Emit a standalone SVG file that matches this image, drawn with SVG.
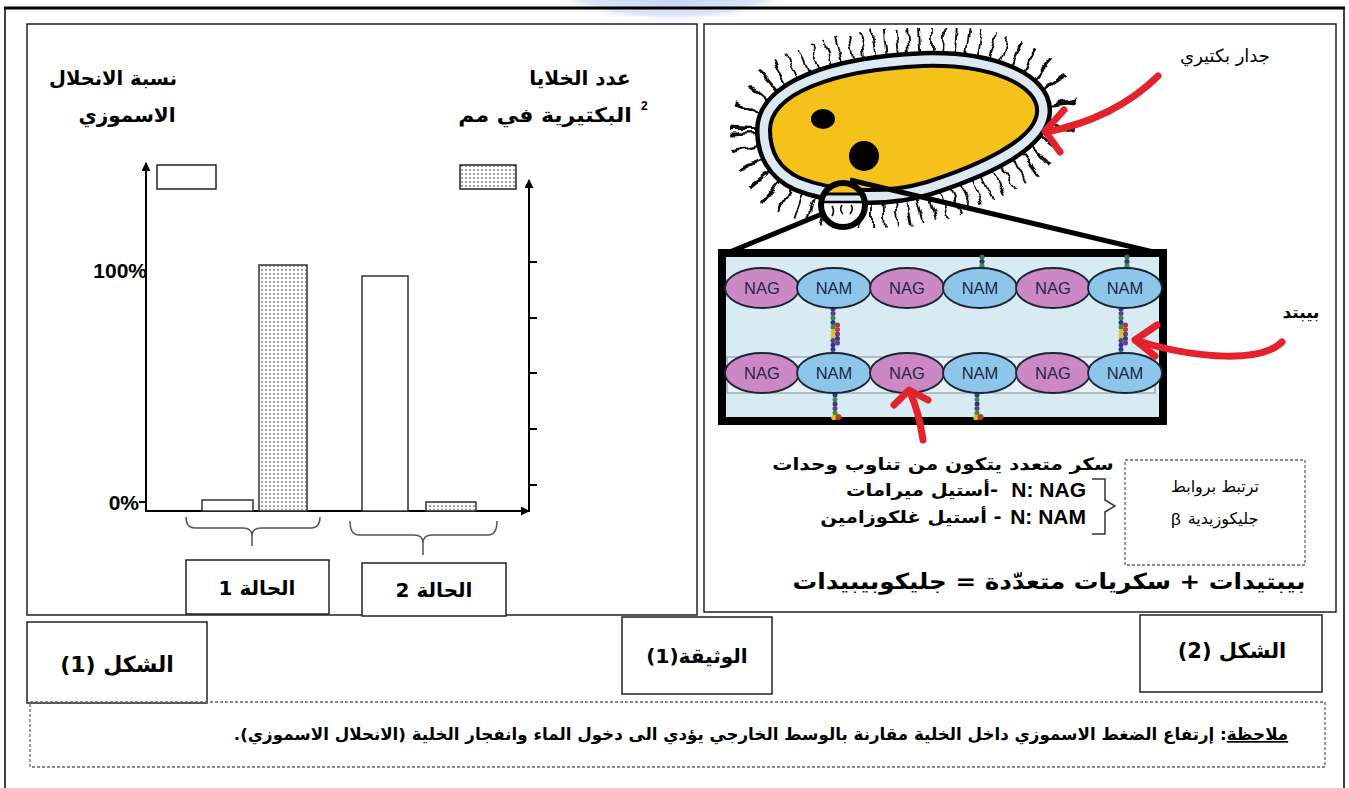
<svg xmlns="http://www.w3.org/2000/svg" width="1349" height="788" viewBox="0 0 1349 788">
  <defs>
    <style>
      .ar { font-family: "DejaVu Sans", "Liberation Sans", sans-serif; direction: rtl; }
      .lat { font-family: "Liberation Sans", Arial, sans-serif; }
      .b { font-weight: bold; }
      .box { fill: #fff; stroke: #222; stroke-width: 1.5; }
      .axis { stroke: #000; stroke-width: 2; fill: none; }
      .tick { stroke: #000; stroke-width: 2; }
      .brace { stroke: #555; stroke-width: 1.5; fill: none; }
      .bar { stroke: #333; stroke-width: 1.5; }
      .red { stroke: #e3222b; stroke-width: 7; fill: none; stroke-linecap: round; stroke-linejoin: round; }
      .nag { fill: #cc88c4; stroke: #1c2533; stroke-width: 1.8; }
      .nam { fill: #8ec6ea; stroke: #1c2533; stroke-width: 1.8; }
      .sug { font-family: "Liberation Sans", Arial, sans-serif; font-size: 16.5px; fill: #1d2747; text-anchor: middle; }
      .dash { fill: none; stroke: #666; stroke-width: 1.3; stroke-dasharray: 3 2; }
    </style>
    <pattern id="dots" width="4" height="4" patternUnits="userSpaceOnUse">
      <rect width="4" height="4" fill="#fff"/>
      <circle cx="2" cy="2" r="0.75" fill="#222"/>
    </pattern>
    <marker id="arrow" viewBox="0 0 10 10" refX="9" refY="5" markerWidth="4.5" markerHeight="4.5" orient="auto">
      <path d="M0,0 L10,5 L0,10 z" fill="#000"/>
    </marker>
    <radialGradient id="glow" cx="0.5" cy="0.5" r="0.5">
      <stop offset="0" stop-color="#c3d1f1"/>
      <stop offset="0.75" stop-color="#dbe4f7"/>
      <stop offset="1" stop-color="#ffffff" stop-opacity="0"/>
    </radialGradient>
    <filter id="wavy" x="-15%" y="-30%" width="130%" height="160%">
      <feTurbulence type="fractalNoise" baseFrequency="0.09" numOctaves="1" seed="7" result="t"/>
      <feDisplacementMap in="SourceGraphic" in2="t" scale="10" xChannelSelector="R" yChannelSelector="G"/>
    </filter>
    <path id="cellShape" d="M 770,130 C 770,95 830,70 923,66 C 990,64 1040,85 1037,113 C 1034,140 980,165 927,182 C 880,196 830,190 800,178 C 778,168 770,150 770,130 Z"/>
    <clipPath id="lens"><circle cx="843" cy="205" r="21"/></clipPath>
    <!-- peptide bead chains -->
    <g id="pepShort">
      <circle cx="0" cy="0" r="2.6" fill="#3a7a3a"/>
      <circle cx="0" cy="4.5" r="2.6" fill="#2b3b8c"/>
      <circle cx="0" cy="9" r="2.6" fill="#3a8c3a"/>
      <circle cx="0" cy="13" r="2.6" fill="#2b3b8c"/>
    </g>
    <g id="pepLong">
      <circle cx="0" cy="0" r="2.5" fill="#2b3b8c"/>
      <circle cx="0" cy="4.5" r="2.5" fill="#6a3a8a"/>
      <circle cx="0" cy="9" r="2.5" fill="#3a8c3a"/>
      <circle cx="0" cy="13.5" r="2.5" fill="#2b3b8c"/>
      <circle cx="0" cy="18" r="2.5" fill="#3a8c3a"/>
      <circle cx="0" cy="22.5" r="2.5" fill="#d9c21e"/>
      <circle cx="0" cy="27" r="2.5" fill="#d9c21e"/>
      <circle cx="0" cy="31.5" r="2.5" fill="#6a3a8a"/>
      <circle cx="0" cy="36" r="2.5" fill="#2b3b8c"/>
      <circle cx="0" cy="40.5" r="2.5" fill="#2b3b8c"/>
      <circle cx="0" cy="45" r="2.5" fill="#3a8c3a"/>
      <circle cx="4.5" cy="16" r="2.5" fill="#b03030"/>
      <circle cx="4.5" cy="20.5" r="2.5" fill="#c0392b"/>
      <circle cx="4.5" cy="25" r="2.5" fill="#6a3a8a"/>
      <circle cx="4.5" cy="29.5" r="2.5" fill="#2b3b8c"/>
      <circle cx="4.5" cy="34" r="2.5" fill="#6a3a8a"/>
    </g>
    <g id="pepLow">
      <circle cx="0" cy="0" r="2.5" fill="#2b3b8c"/>
      <circle cx="0" cy="4.5" r="2.5" fill="#3a8c3a"/>
      <circle cx="0" cy="9" r="2.5" fill="#2b3b8c"/>
      <circle cx="0" cy="13.5" r="2.5" fill="#6a3a8a"/>
      <circle cx="0" cy="18" r="2.5" fill="#3a8c3a"/>
      <circle cx="-1" cy="22.5" r="2.8" fill="#d9c21e"/>
      <circle cx="3.5" cy="22" r="3" fill="#c0392b"/>
    </g>
  </defs>

  <rect width="1349" height="788" fill="#fff"/>
  <ellipse cx="672" cy="-6" rx="122" ry="28" fill="url(#glow)"/>

  <!-- outer frame -->
  <g id="frame">
    <line x1="4" y1="8" x2="1345" y2="8" stroke="#000" stroke-width="3"/>
    <line x1="5" y1="8" x2="5" y2="788" stroke="#000" stroke-width="1.5"/>
    <line x1="1344" y1="8" x2="1344" y2="788" stroke="#000" stroke-width="1.5"/>
  </g>

  <!-- figure 1: bar chart -->
  <g id="figure1">
    <rect x="27" y="24" width="670" height="591" class="box"/>
    <text class="ar b" x="113" y="85" font-size="19.5" text-anchor="middle">نسبة الانحلال</text>
    <text class="ar b" x="127" y="122" font-size="20" text-anchor="middle">الاسموزي</text>
    <text class="ar b" x="580" y="85" font-size="20" text-anchor="middle">عدد الخلايا</text>
    <text class="ar b" transform="translate(545,122) scale(1.1,1)" x="0" y="0" font-size="20" text-anchor="middle">البكتيرية في مم</text>
    <text class="lat b" x="641" y="110" font-size="12">2</text>

    <rect id="legend-lysis" x="157" y="165" width="59" height="24" fill="#fff" stroke="#222" stroke-width="1.5"/>
    <rect id="legend-count" x="460" y="165" width="56" height="24" fill="url(#dots)" stroke="#222" stroke-width="1.5"/>

    <g id="axes">
      <line x1="146" y1="512" x2="146" y2="163" class="axis" marker-end="url(#arrow)"/>
      <line x1="529" y1="512" x2="529" y2="180" class="axis" marker-end="url(#arrow)"/>
      <line x1="146" y1="511" x2="529" y2="511" class="axis" marker-end="url(#arrow)"/>
      <line x1="139" y1="502" x2="146" y2="502" class="tick"/>
      <line x1="529" y1="262" x2="537" y2="262" class="tick"/>
      <line x1="529" y1="318" x2="537" y2="318" class="tick"/>
      <line x1="529" y1="373" x2="537" y2="373" class="tick"/>
      <line x1="529" y1="429" x2="537" y2="429" class="tick"/>
      <line x1="529" y1="485" x2="537" y2="485" class="tick"/>
      <text class="lat b" x="147" y="278" font-size="21" text-anchor="end">100%</text>
      <text class="lat b" x="139" y="510" font-size="21" text-anchor="end">0%</text>
    </g>

    <g id="bars">
      <rect x="202" y="500" width="51" height="11" fill="#fff" class="bar"/>
      <rect x="259" y="265" width="48" height="246" fill="url(#dots)" class="bar"/>
      <rect x="362" y="276" width="46" height="235" fill="#fff" class="bar"/>
      <rect x="426" y="502" width="50" height="9" fill="url(#dots)" class="bar"/>
    </g>

    <g id="braces">
      <path class="brace" d="M186,517 Q186,528 195,528 L243,528 Q252,528 252,536 L252,546 M252,536 Q252,528 261,528 L311,528 Q320,528 320,517"/>
      <path class="brace" d="M350,521 Q350,535 359,535 L414,535 Q423,535 423,543 L423,555 M423,543 Q423,535 432,535 L488,535 Q497,535 497,521"/>
    </g>

    <g id="case1">
      <rect x="186" y="560" width="143" height="54" class="box"/>
      <text class="ar b" x="257" y="595" font-size="20" text-anchor="middle">الحالة 1</text>
    </g>
    <g id="case2">
      <rect x="362" y="563" width="144" height="53" class="box"/>
      <text class="ar b" x="434" y="597" font-size="20" text-anchor="middle">الحالة 2</text>
    </g>
  </g>

  <!-- figure 2: bacterial wall and peptidoglycan -->
  <g id="figure2">
    <rect x="704" y="24" width="632" height="588" class="box"/>

    <g id="bacterium">
      <use href="#cellShape" fill="none" stroke="#111" stroke-width="80" stroke-dasharray="1.9 9" filter="url(#wavy)"/>
      <use href="#cellShape" fill="none" stroke="#000" stroke-width="30"/>
      <use href="#cellShape" fill="none" stroke="#dce9f2" stroke-width="21"/>
      <use href="#cellShape" fill="#f4c21b" stroke="#000" stroke-width="4"/>
      <ellipse cx="823" cy="119" rx="12" ry="10" fill="#000"/>
      <circle cx="864" cy="156" r="15" fill="#000"/>
    </g>

    <g id="magnifier">
      <line x1="822" y1="214" x2="720" y2="256" stroke="#000" stroke-width="5"/>
      <line x1="850" y1="180" x2="1166" y2="255" stroke="#000" stroke-width="5"/>
      <circle cx="843" cy="205" r="21" fill="#fff"/>
      <g clip-path="url(#lens)">
        <rect x="820" y="182" width="46" height="12" fill="#f4c21b"/>
        <line x1="820" y1="194" x2="866" y2="194" stroke="#000" stroke-width="3"/>
        <rect x="820" y="196" width="46" height="5" fill="#dce9f2"/>
        <line x1="820" y1="202" x2="866" y2="202" stroke="#000" stroke-width="2.5"/>
        <path d="M832,206 q3,5 0,10 M842,205 q-3,5 1,9 M851,205 q3,4 -1,9" stroke="#000" stroke-width="1.6" fill="none"/>
      </g>
      <circle cx="843" cy="205" r="22" fill="none" stroke="#000" stroke-width="6"/>
    </g>

    <g id="peptidoglycan">
      <rect x="722" y="253" width="441" height="168" fill="#d8eaf2" stroke="#000" stroke-width="8"/>
      <rect x="727" y="357" width="428" height="36" fill="#e5f1f6" stroke="#7d8f99" stroke-width="1"/>

      <use href="#pepShort" x="982" y="257"/>
      <use href="#pepShort" x="1127" y="257"/>
      <use href="#pepLong" x="833" y="309"/>
      <use href="#pepLong" x="1121" y="309"/>
      <use href="#pepLow" x="835" y="395"/>
      <use href="#pepLow" x="977" y="395"/>

      <g id="row-top">
        <ellipse cx="762" cy="288" rx="37" ry="20" class="nag"/>
        <ellipse cx="834" cy="288" rx="37" ry="20" class="nam"/>
        <ellipse cx="907" cy="288" rx="37" ry="20" class="nag"/>
        <ellipse cx="980" cy="288" rx="37" ry="20" class="nam"/>
        <ellipse cx="1053" cy="288" rx="37" ry="20" class="nag"/>
        <ellipse cx="1125" cy="288" rx="37" ry="20" class="nam"/>
        <text class="sug" x="762" y="294">NAG</text>
        <text class="sug" x="834" y="294">NAM</text>
        <text class="sug" x="907" y="294">NAG</text>
        <text class="sug" x="980" y="294">NAM</text>
        <text class="sug" x="1053" y="294">NAG</text>
        <text class="sug" x="1125" y="294">NAM</text>
      </g>
      <g id="row-bottom">
        <ellipse cx="762" cy="373" rx="37" ry="20" class="nag"/>
        <ellipse cx="834" cy="373" rx="37" ry="20" class="nam"/>
        <ellipse cx="907" cy="373" rx="37" ry="20" class="nag"/>
        <ellipse cx="980" cy="373" rx="37" ry="20" class="nam"/>
        <ellipse cx="1053" cy="373" rx="37" ry="20" class="nag"/>
        <ellipse cx="1125" cy="373" rx="37" ry="20" class="nam"/>
        <text class="sug" x="762" y="379">NAG</text>
        <text class="sug" x="834" y="379">NAM</text>
        <text class="sug" x="907" y="379">NAG</text>
        <text class="sug" x="980" y="379">NAM</text>
        <text class="sug" x="1053" y="379">NAG</text>
        <text class="sug" x="1125" y="379">NAM</text>
      </g>
    </g>

    <g id="pointers">
      <path class="red" d="M1158,76 C1130,104 1090,124 1046,132"/>
      <path class="red" d="M1064,110 L1045,131 L1060,152"/>
      <path class="red" d="M1282,342 C1262,362 1200,360 1138,341"/>
      <path class="red" d="M1157,325 L1135,340 L1155,356"/>
      <path class="red" d="M923,440 Q919,412 910,392"/>
      <path class="red" d="M894,405 L909,390 L928,400"/>
    </g>

    <text class="ar" x="1225" y="62" font-size="18" text-anchor="middle">جدار بكتيري</text>
    <text class="ar b" x="1301" y="318" font-size="17" text-anchor="middle">بيبتد</text>

    <g id="legend-text">
      <text class="ar b" transform="translate(943,470) scale(1.18,1)" x="0" y="0" font-size="17" text-anchor="middle">سكر متعدد يتكون من تناوب وحدات</text>
      <text class="lat b" x="1086" y="497" font-size="21" text-anchor="end">N: NAG</text>
      <text class="ar b" transform="translate(922,496) scale(1.15,1)" x="0" y="0" font-size="17" text-anchor="middle">-أستيل  ميرامات</text>
      <text class="lat b" x="1086" y="524" font-size="21" text-anchor="end">N: NAM</text>
      <text class="ar b" transform="translate(911,523) scale(1.15,1)" x="0" y="0" font-size="17" text-anchor="middle">- أستيل غلكوزامين</text>
      <path d="M1092,479 L1105,479 L1105,500 L1115,506 L1105,512 L1105,534 L1092,534" fill="none" stroke="#333" stroke-width="1.5"/>
      <rect x="1125" y="460" width="180" height="105" class="dash"/>
      <text class="ar" x="1215" y="492" font-size="16" text-anchor="middle">ترتبط بروابط</text>
      <text class="ar" x="1223" y="524" font-size="16" text-anchor="middle">جليكوزيدية</text>
      <text class="lat" x="1176" y="525" font-size="17" text-anchor="middle">β</text>
      <text class="ar b" transform="translate(1049,589) scale(1.12,1)" x="0" y="0" font-size="22" text-anchor="middle">بيبتيدات + سكريات متعدّدة = جليكوبيبيدات</text>
    </g>
  </g>

  <!-- captions -->
  <g id="caption-fig1">
    <rect x="27" y="622" width="180" height="81" class="box"/>
    <text class="ar b" x="117" y="672" font-size="22" text-anchor="middle">الشكل (1)</text>
  </g>
  <g id="caption-doc">
    <rect x="622" y="617" width="150" height="77" class="box"/>
    <text class="ar b" x="697" y="663" font-size="20" text-anchor="middle">الوثيقة(1)</text>
  </g>
  <g id="caption-fig2">
    <rect x="1140" y="615" width="182" height="77" class="box"/>
    <text class="ar b" x="1232" y="658" font-size="21" text-anchor="middle">الشكل (2)</text>
  </g>

  <g id="note">
    <rect x="30" y="702" width="1295" height="65" class="dash"/>
    <text class="ar b" x="761" y="740" font-size="16.7" text-anchor="middle"><tspan text-decoration="underline">ملاحظة</tspan>: إرتفاع الضغط الاسموزي داخل الخلية مقارنة بالوسط الخارجي يؤدي الى دخول الماء وانفجار الخلية (الانحلال الاسموزي).</text>
  </g>
</svg>
